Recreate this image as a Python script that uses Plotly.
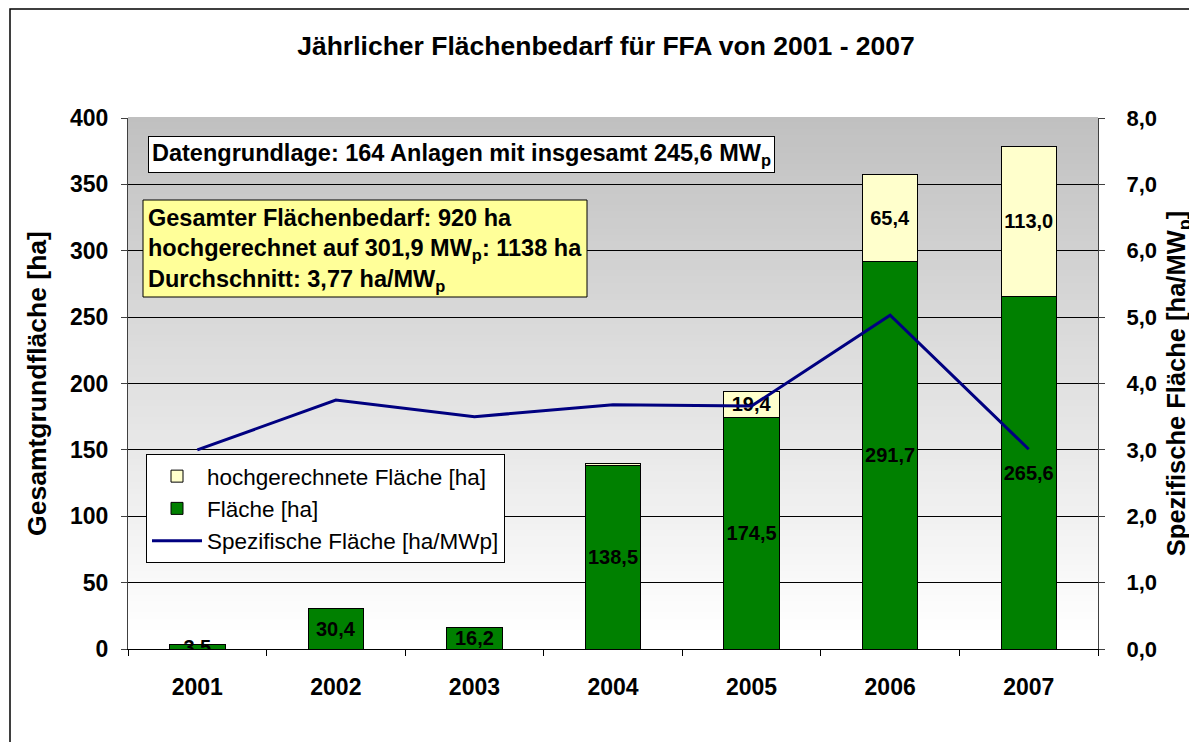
import plotly.graph_objects as go

years = ["2001", "2002", "2003", "2004", "2005", "2006", "2007"]
flaeche = [3.5, 30.4, 16.2, 138.5, 174.5, 291.7, 265.6]
hochgerechnet = [0.0, 0.0, 0.0, 1.0, 19.4, 65.4, 113.0]
spezifisch = [3.0, 3.75, 3.5, 3.68, 3.66, 5.03, 3.01]
left_ticks = [0, 50, 100, 150, 200, 250, 300, 350, 400]
right_ticks = [0, 1, 2, 3, 4, 5, 6, 7, 8]


def fmt(v):
    return f"{v:.1f}".replace(".", ",")


flaeche_text = [fmt(v) for v in flaeche]
hoch_idx = [i for i, v in enumerate(hochgerechnet) if v > 0]
hoch_years = [years[i] for i in hoch_idx]
hoch_vals = [hochgerechnet[i] for i in hoch_idx]
hoch_text = [fmt(v) if v >= 5 else None for v in hoch_vals]

W, H = 1197, 742
OFF = 8  # page offset of the figure inside the browser window
# plot area in page pixels: x 128..1098, y 118..649
ML = 128 - OFF
MT = 118 - OFF
MR = W - (1098 - OFF)
MB = H - (649 - OFF)
PW = W - ML - MR
PH = H - MT - MB


def xp(px):  # page px -> paper
    return (px - OFF - ML) / PW


def yp(py):  # page px -> paper
    return (H - MB - (py - OFF)) / PH


FONT = "Liberation Sans, Arial, sans-serif"

fig = go.Figure()
fig.add_trace(go.Bar(
    x=years, y=flaeche, name="Fläche [ha]",
    marker=dict(color="#008000", line=dict(color="black", width=1)),
    text=flaeche_text, textposition="inside", insidetextanchor="middle",
    constraintext="none", textangle=0,
    textfont=dict(family=FONT, size=20, color="black", weight="bold"),
    legendrank=2, hoverinfo="skip",
))
fig.add_trace(go.Bar(
    x=hoch_years, y=hoch_vals, name="hochgerechnete Fläche [ha]",
    marker=dict(color="#ffffcc", line=dict(color="black", width=1)),
    text=hoch_text, textposition="inside", insidetextanchor="middle",
    constraintext="none", textangle=0,
    textfont=dict(family=FONT, size=20, color="black", weight="bold"),
    legendrank=1, hoverinfo="skip",
))
fig.add_trace(go.Scatter(
    x=years, y=spezifisch, name="Spezifische Fläche [ha/MWp]",
    mode="lines", line=dict(color="#000080", width=3),
    yaxis="y2", legendrank=3, hoverinfo="skip",
))

shapes = []
N = 90
for i in range(N):
    f = i / N
    g = int(round(192 + 63 * min(1.0, (f + 0.5 / N) / 0.97)))
    col = f"rgb({g},{g},{g})"
    shapes.append(dict(type="rect", xref="x domain", yref="y domain",
                       x0=0, x1=1, y0=1 - (i + 1) / N, y1=1 - i / N + 0.002,
                       fillcolor=col, line=dict(width=0), layer="below"))
# outer frame
shapes.append(dict(type="rect", xref="paper", yref="paper",
                   x0=xp(10), x1=xp(1215), y0=yp(9), y1=yp(765),
                   line=dict(color="black", width=1.5), fillcolor="rgba(0,0,0,0)",
                   layer="above"))
# yellow info box
shapes.append(dict(type="rect", xref="paper", yref="paper",
                   x0=xp(143), x1=xp(587), y0=yp(200), y1=yp(297),
                   line=dict(color="black", width=1), fillcolor="#ffff99",
                   layer="above"))

annots = [
    dict(text="Datengrundlage: 164 Anlagen mit insgesamt 245,6 MW<sub>p</sub>",
         xref="paper", yref="paper", x=xp(148), y=yp(155), xanchor="left", yanchor="middle",
         showarrow=False, bgcolor="white", bordercolor="black", borderwidth=1, borderpad=3,
         font=dict(family=FONT, size=23.5, color="black", weight="bold")),
]
lines = ["Gesamter Flächenbedarf: 920 ha",
         "hochgerechnet auf 301,9 MW<sub>p</sub>: 1138 ha",
         "Durchschnitt: 3,77 ha/MW<sub>p</sub>"]
for txt, py in zip(lines, [218, 249, 280]):
    annots.append(dict(text=txt, xref="paper", yref="paper", x=xp(146), y=yp(py),
                       xanchor="left", yanchor="middle", showarrow=False,
                       font=dict(family=FONT, size=23.5, color="black", weight="bold")))

fig.update_layout(
    width=W, height=H,
    margin=dict(l=ML, r=MR, t=MT, b=MB),
    paper_bgcolor="white", plot_bgcolor="rgba(0,0,0,0)",
    barmode="stack", bargap=0.6,
    font=dict(family=FONT, color="black"),
    title=dict(text="Jährlicher Flächenbedarf für FFA von 2001 - 2007",
               xref="paper", x=xp(606), xanchor="center",
               yref="container", y=1 - (46 - OFF) / H, yanchor="middle",
               font=dict(family=FONT, size=26.5, color="black", weight="bold")),
    xaxis=dict(type="category", showline=True, linecolor="black", linewidth=1,
               ticks="outside", tickson="boundaries", ticklen=6, tickcolor="black",
               ticklabelstandoff=17,
               tickfont=dict(family=FONT, size=23, color="black", weight="bold")),
    yaxis=dict(range=[0, 400], tickvals=left_ticks, ticktext=[str(v) for v in left_ticks],
               showgrid=True, gridcolor="black", gridwidth=1, zeroline=False,
               showline=True, linecolor="#404040", linewidth=1,
               ticks="outside", ticklen=6, tickcolor="#404040", ticklabelstandoff=8,
               tickfont=dict(family=FONT, size=23, color="black", weight="bold"),
               title=dict(text="Gesamtgrundfläche [ha]", standoff=15,
                          font=dict(family=FONT, size=26.5, color="black", weight="bold"))),
    yaxis2=dict(overlaying="y", side="right", range=[0, 8], tickvals=right_ticks,
                ticktext=[fmt(v) for v in right_ticks], showgrid=False, zeroline=False,
                showline=True, linecolor="#404040", linewidth=1,
                ticks="outside", ticklen=6, tickcolor="#404040", ticklabelstandoff=17,
                tickfont=dict(family=FONT, size=22, color="black", weight="bold"),
                title=dict(text="Spezifische Fläche [ha/MW<sub>p</sub>]", standoff=11,
                           font=dict(family=FONT, size=25.5, color="black", weight="bold"))),
    legend=dict(x=xp(146), y=yp(454), xanchor="left", yanchor="top",
                bgcolor="white", bordercolor="black", borderwidth=1,
                traceorder="normal", tracegroupgap=0, itemwidth=50,
                font=dict(family=FONT, size=22.5, color="black")),
    shapes=shapes, annotations=annots,
)

fig.write_html("out.html")
